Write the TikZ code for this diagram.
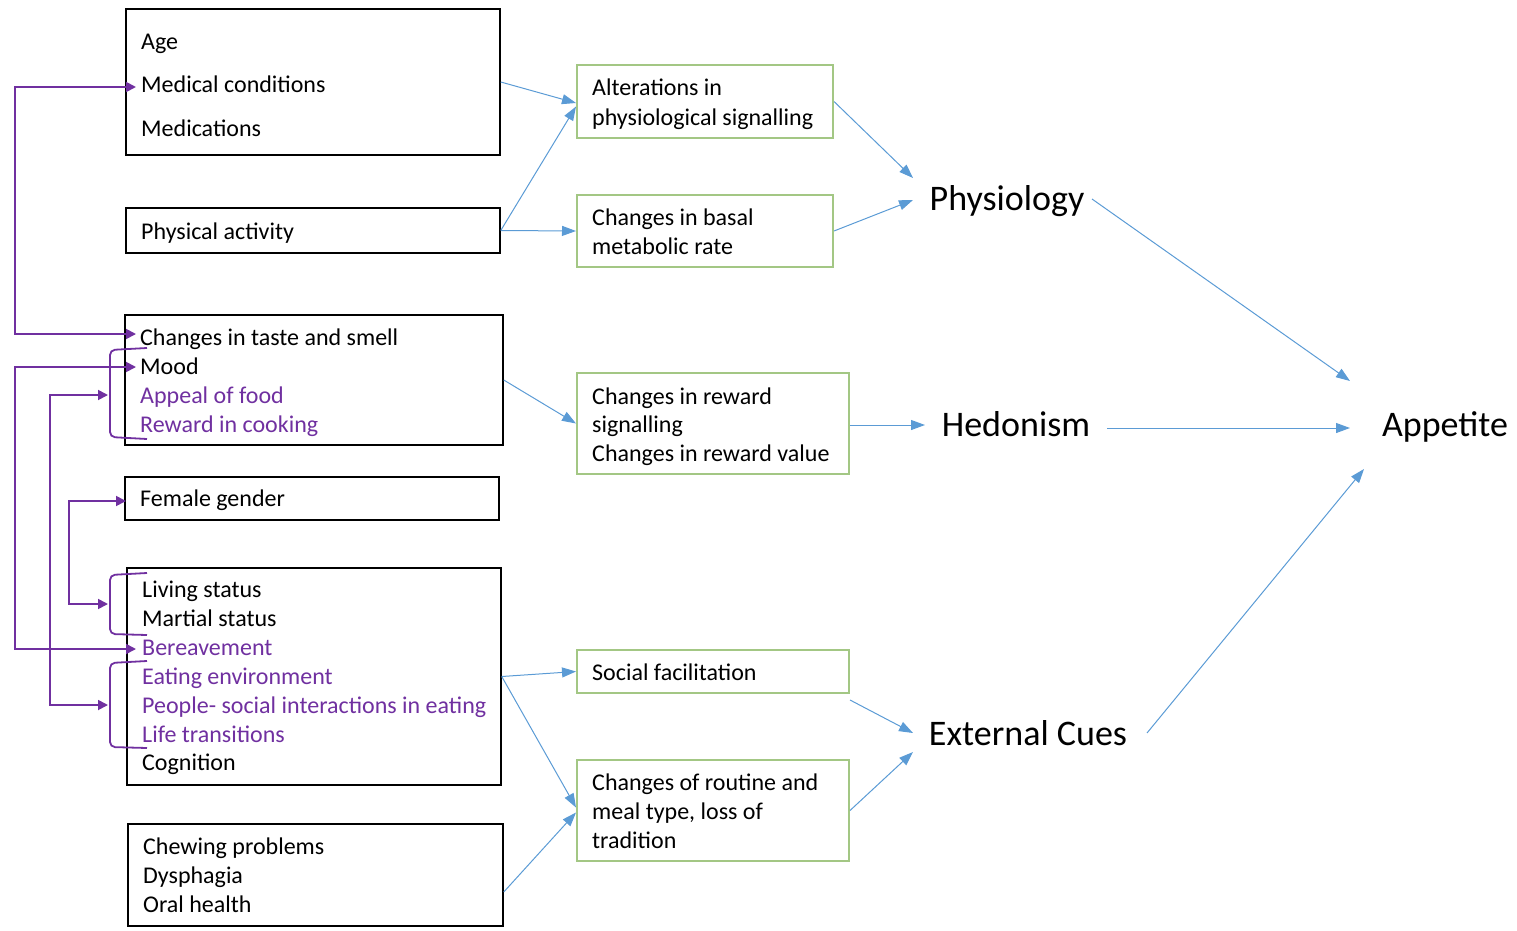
\documentclass[tikz,border=0pt]{standalone}
\usepackage{fontspec}
\setmainfont{Carlito}
\usetikzlibrary{arrows.meta,calc}
\definecolor{pur}{RGB}{112,48,160}
\definecolor{blu}{RGB}{91,155,213}
\definecolor{grn}{RGB}{163,199,132}

\begin{document}
\begin{tikzpicture}[x=1pt,y=-1pt,
  bbox/.style={draw=black,line width=1.5pt,inner sep=0pt},
  gbox/.style={draw=grn,line width=2pt,inner sep=0pt},
  txt/.style={anchor=base west,inner sep=0pt,font=\fontsize{24}{29}\selectfont},
  ptxt/.style={txt,text=pur},
  big/.style={anchor=base,inner sep=0pt,font=\fontsize{36}{43}\selectfont},
  barr/.style={draw=blu,line width=1pt,-{Triangle[length=14pt,width=10pt]}},
  parr/.style={draw=pur,line width=1.8pt,{Triangle[length=10pt,width=10pt]}-{Triangle[length=10pt,width=10pt]}},
  brk/.style={draw=pur,line width=1.8pt,rounded corners=5pt}]
\useasboundingbox (0,0) rectangle (1517,931);

% factor boxes
\node[bbox,minimum width=374pt,minimum height=146pt] (b1) at (313,82) {};
\node[bbox,minimum width=374pt,minimum height=45pt] (b2) at (313,230.5) {};
\node[bbox,minimum width=378pt,minimum height=130pt] (b3) at (314,380) {};
\node[bbox,minimum width=374pt,minimum height=43pt] (b4) at (312,498.5) {};
\node[bbox,minimum width=374pt,minimum height=217pt] (b5) at (314,676.5) {};
\node[bbox,minimum width=375pt,minimum height=102pt] (b6) at (315.5,875) {};

% mechanism boxes
\node[gbox,minimum width=256pt,minimum height=73pt] (g1) at (705,101.5) {};
\node[gbox,minimum width=256pt,minimum height=72pt] (g2) at (705,231) {};
\node[gbox,minimum width=272pt,minimum height=101pt] (g3) at (713,423.5) {};
\node[gbox,minimum width=272pt,minimum height=43pt] (g4) at (713,671.5) {};
\node[gbox,minimum width=272pt,minimum height=101pt] (g5) at (713,810.5) {};

% factor texts
\node[txt] (t1a) at (141,50) {Age};
\node[txt] (t1b) at (141,93) {Medical conditions};
\node[txt] (t1c) at (141,136) {Medications};
\node[txt] (t2a) at (141,239) {Physical activity};
\node[txt] (t3a) at (140,345) {Changes in taste and smell};
\node[txt] (t3b) at (140,374) {Mood};
\node[ptxt] (t3c) at (140,403) {Appeal of food};
\node[ptxt] (t3d) at (140,432) {Reward in cooking};
\node[txt] (t4a) at (140,506) {Female gender};
\node[txt] (t5a) at (142,597) {Living status};
\node[txt] (t5b) at (142,626) {Martial status};
\node[ptxt] (t5c) at (142,655) {Bereavement};
\node[ptxt] (t5d) at (142,684) {Eating environment};
\node[ptxt] (t5e) at (142,713) {People- social interactions in eating};
\node[ptxt] (t5f) at (142,742) {Life transitions};
\node[txt] (t5g) at (142,770) {Cognition};
\node[txt] (t6a) at (143,854) {Chewing problems};
\node[txt] (t6b) at (143,883) {Dysphagia};
\node[txt] (t6c) at (143,912) {Oral health};

% mechanism texts
\node[txt] (u1a) at (592,96) {Alterations in};
\node[txt] (u1b) at (592,125) {physiological signalling};
\node[txt] (u2a) at (592,225) {Changes in basal};
\node[txt] (u2b) at (592,254) {metabolic rate};
\node[txt] (u3a) at (592,404) {Changes in reward};
\node[txt] (u3b) at (592,432) {signalling};
\node[txt] (u3c) at (592,461) {Changes in reward value};
\node[txt] (u4a) at (592,680) {Social facilitation};
\node[txt] (u5a) at (592,790) {Changes of routine and};
\node[txt] (u5b) at (592,819) {meal type, loss of};
\node[txt] (u5c) at (592,848) {tradition};

% domains and outcome
\node[big] (phys) at (1007,210) {Physiology};
\node[big] (hed) at (1016,436) {Hedonism};
\node[big] (ext) at (1028,745) {External Cues};
\node[big] (app) at (1445,436) {Appetite};

% arrow ends near the domain labels
\coordinate (physA) at (913,178);
\coordinate (physB) at (913,200);
\coordinate (hedA) at (925,425);
\coordinate (extA) at (913,733);
\coordinate (extB) at (913,752);
\coordinate (physOut) at (1092,199);
\coordinate (hedOut) at (1107,428);
\coordinate (extOut) at (1147,733);
\coordinate (appA) at (1350,381);
\coordinate (appB) at (1350,428);
\coordinate (appC) at (1364,469);

% blue arrows
\draw[barr] (b1.east) -- ($(g1.west)+(0,1.5)$);
\draw[barr] (b2.east) -- ($(g1.west)+(0,5)$);
\draw[barr] (b2.east) -- (g2.west);
\draw[barr] (g1.east) -- (physA);
\draw[barr] (g2.east) -- (physB);
\draw[barr] (b3.east) -- (g3.west);
\draw[barr] ($(g3.east)+(0,1.5)$) -- (hedA);
\draw[barr] (b5.east) -- (g4.west);
\draw[barr] (b5.east) -- ($(g5.west)+(0,-3)$);
\draw[barr] ($(b6.east)+(0,17)$) -- ($(g5.west)+(0,2)$);
\draw[barr] ($(g4.south east)+(0,6)$) -- (extA);
\draw[barr] (g5.east) -- (extB);
\draw[barr] (physOut) -- (appA);
\draw[barr] (hedOut) -- (appB);
\draw[barr] (extOut) -- (appC);

% brackets grouping items
\draw[brk] (147,348) -- (110,350) -- (110,437) -- (147,439);
\draw[brk] (147,573) -- (110,575) -- (110,634) -- (147,635);
\draw[brk] (147,661) -- (110,663) -- (110,747) -- (147,748);
\coordinate (brA) at (108,395);
\coordinate (brB) at (108,604);
\coordinate (brC) at (108,705);

% purple links between factors
\coordinate (pMed) at (136,87);
\coordinate (pTaste) at (136,334);
\coordinate (pMood) at (136,367);
\coordinate (pBer) at (136,649);
\coordinate (pFem) at (126,501);
\draw[parr] (pMed) -- ++(-121,0) |- (pTaste);
\draw[parr] (pMood) -- ++(-121,0) |- (pBer);
\draw[parr] (brA) -- ++(-58,0) |- (brC);
\draw[parr] (pFem) -- ++(-57,0) |- (brB);
\end{tikzpicture}
\end{document}
